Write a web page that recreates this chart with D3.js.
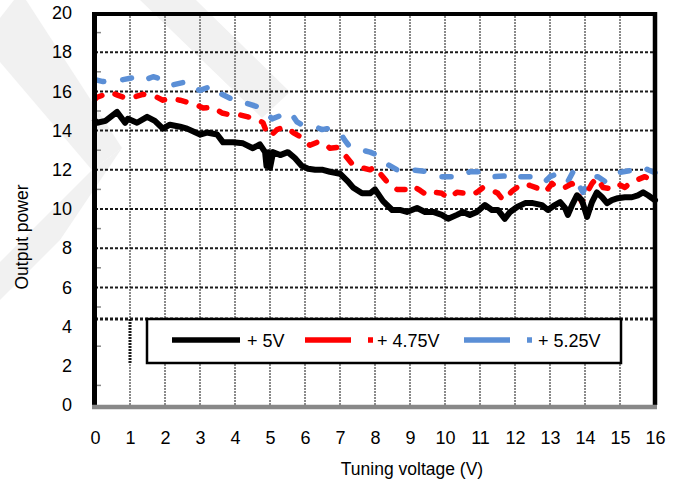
<!DOCTYPE html>
<html>
<head>
<meta charset="utf-8">
<script src="https://cdn.jsdelivr.net/npm/d3@7"></script>
<style>
  html, body { margin: 0; padding: 0; background: #fff; }
  svg { display: block; font-family: "Liberation Sans", Arial, sans-serif; }
</style>
</head>
<body>
<svg id="chart" width="673" height="486"></svg>
<script>
// Output power versus tuning voltage for three supply voltages: [tuning V, power]
const power5V = [
  [0, 14.5], [0.06, 14.4], [0.3, 14.5], [0.63, 14.95], [0.86, 14.4], [0.94, 14.6],
  [1.2, 14.4], [1.49, 14.7], [1.71, 14.5], [1.94, 14.1], [2.14, 14.3], [2.43, 14.2],
  [2.63, 14.1], [3.0, 13.8], [3.2, 13.9], [3.49, 13.8], [3.66, 13.4], [3.94, 13.4],
  [4.23, 13.35], [4.51, 13.1], [4.71, 13.3], [4.86, 12.9], [4.9, 12.2], [4.95, 12.9],
  [5.0, 12.1], [5.09, 12.9], [5.29, 12.75], [5.51, 12.9], [5.71, 12.6], [5.91, 12.2],
  [6.09, 12.05], [6.29, 12.0], [6.51, 12.0], [6.71, 11.9], [7.0, 11.8], [7.23, 11.4],
  [7.37, 11.1], [7.63, 10.8], [7.86, 10.8], [8.0, 11.0], [8.23, 10.4], [8.49, 9.95],
  [8.71, 9.95], [8.91, 9.85], [9.2, 10.05], [9.43, 9.85], [9.66, 9.85], [9.91, 9.7],
  [10.09, 9.5], [10.34, 9.7], [10.51, 9.85], [10.71, 9.7], [10.91, 9.85], [11.14, 10.2],
  [11.34, 9.95], [11.51, 9.95], [11.71, 9.5], [11.86, 9.85], [12.06, 10.1], [12.29, 10.3],
  [12.51, 10.3], [12.77, 10.2], [12.94, 9.95], [13.14, 10.2], [13.29, 10.35], [13.43, 10.05],
  [13.51, 9.7], [13.63, 10.2], [13.77, 10.7], [13.91, 10.45], [14.06, 9.6], [14.2, 10.35],
  [14.34, 10.85], [14.49, 10.6], [14.63, 10.3], [14.77, 10.45], [14.94, 10.55], [15.14, 10.6],
  [15.34, 10.6], [15.51, 10.7], [15.66, 10.85], [15.8, 10.7], [16.0, 10.45]
];

const power475V = [
  [0, 15.6], [0.06, 15.7], [0.43, 15.95], [0.66, 15.8], [0.91, 15.65], [1.09, 15.7],
  [1.37, 15.85], [1.66, 15.8], [1.94, 15.55], [2.14, 15.65], [2.43, 15.55], [2.63, 15.45],
  [2.91, 15.3], [3.09, 15.15], [3.37, 15.2], [3.63, 14.9], [3.86, 14.8], [4.14, 14.8],
  [4.37, 14.7], [4.66, 14.55], [4.8, 14.4], [4.91, 13.9], [5.0, 13.7], [5.2, 14.05],
  [5.37, 14.15], [5.51, 14.15], [5.66, 13.9], [5.86, 13.7], [6.14, 13.25], [6.34, 13.4],
  [6.57, 13.35], [6.71, 13.1], [6.94, 13.15], [7.14, 12.75], [7.37, 12.25], [7.63, 12.1],
  [7.86, 12.0], [8.0, 12.15], [8.06, 12.0], [8.29, 11.5], [8.43, 11.2], [8.63, 11.0],
  [8.86, 11.0], [9.06, 11.2], [9.29, 10.95], [9.49, 10.7], [9.71, 10.85], [9.91, 10.8],
  [10.09, 10.55], [10.34, 10.85], [10.57, 10.8], [10.71, 10.7], [10.91, 10.85], [11.09, 11.1],
  [11.29, 11.0], [11.51, 10.8], [11.66, 10.45], [11.8, 10.7], [11.94, 10.95], [12.06, 11.1],
  [12.23, 11.3], [12.43, 11.2], [12.66, 11.05], [12.86, 10.85], [13.06, 11.3], [13.23, 11.05],
  [13.43, 11.1], [13.63, 11.3], [13.77, 10.85], [13.91, 10.35], [14.06, 10.85], [14.2, 11.3],
  [14.34, 11.6], [14.51, 11.1], [14.71, 11.05], [14.91, 11.3], [15.14, 11.1], [15.34, 11.4],
  [15.51, 11.5], [15.71, 11.65], [15.86, 11.5], [16.0, 11.2]
];

const power525V = [
  [0, 16.6], [0.23, 16.5], [0.8, 16.6], [1.09, 16.7], [1.29, 16.5], [1.66, 16.75],
  [1.94, 16.6], [2.14, 16.3], [2.63, 16.5], [2.8, 16.2], [3.0, 16.05], [3.37, 16.3],
  [3.57, 15.9], [3.86, 15.65], [4.06, 15.65], [4.23, 15.45], [4.77, 15.15], [4.91, 14.9],
  [5.06, 14.6], [5.57, 14.95], [5.77, 14.45], [5.91, 14.3], [6.29, 14.2], [6.49, 14.05],
  [6.63, 14.1], [7.0, 13.9], [7.14, 13.5], [7.29, 13.15], [7.86, 12.9], [8.06, 12.75],
  [8.23, 12.4], [8.63, 12.0], [8.8, 11.9], [9.06, 12.0], [9.51, 11.9], [9.86, 11.65],
  [10.43, 11.65], [10.71, 11.9], [11.2, 11.9], [11.37, 11.65], [11.86, 11.7], [12.0, 11.5],
  [12.14, 11.65], [12.71, 11.65], [12.86, 11.4], [13.0, 11.65], [13.14, 11.75], [13.37, 11.75],
  [13.51, 11.4], [13.66, 11.9], [13.8, 11.3], [13.94, 10.85], [14.09, 11.4], [14.2, 11.65],
  [14.37, 11.65], [14.57, 11.4], [14.71, 11.65], [14.91, 11.85], [15.43, 12.0], [15.63, 12.15],
  [15.8, 12.0], [16.0, 11.85]
];

const seriesNames = ["+ 5V", "+ 4.75V", "+ 5.25V"];
const seriesColors = ["#000000", "#ff0000", "#5b8fd6"];

const xTickValues = [0, 1, 2, 3, 4, 5, 6, 7, 8, 9, 10, 11, 12, 13, 14, 15, 16];
const yTickValues = [0, 2, 4, 6, 8, 10, 12, 14, 16, 18, 20];
const yGridValues = [6, 8, 10, 12, 14, 16, 18];
const yMinorValues = [1, 3, 5, 7, 9, 11, 13, 15, 17, 19];

const xTitle = "Tuning voltage (V)";
const yTitle = "Output power";

// ---- layout ----
const svg = d3.select("#chart");
const x = d3.scaleLinear().domain([0, 16]).range([95, 655]);
const y = d3.scaleLinear().domain([0, 20]).range([405, 13]);
const legendBox = { x0: 147, x1: 621, y0: 319, y1: 363 };

svg.append("rect").attr("width", 673).attr("height", 486).attr("fill", "#fff");

// faint diagonal backdrop bands in the upper-left corner
const backdrop = svg.append("g").attr("fill", "#f1f1f1");
backdrop.append("polygon").attr("points", "0,18 0,62 92,170 122,148 26,0 14,0");
backdrop.append("polygon").attr("points", "92,170 122,148 60,240 0,300 0,262");
backdrop.append("polygon").attr("points", "140,0 196,0 290,92 262,118");

// vertical grid (grey, fine dotted)
svg.append("g").selectAll("line")
  .data(xTickValues.slice(1, -1))
  .join("line")
  .attr("x1", d => x(d)).attr("x2", d => x(d))
  .attr("y1", y(20)).attr("y2", y(0))
  .attr("stroke", "#8a8a8a").attr("stroke-width", 2)
  .attr("stroke-dasharray", "2,1");

// horizontal grid (black dotted)
svg.append("g").selectAll("line")
  .data(yGridValues)
  .join("line")
  .attr("x1", x(0)).attr("x2", x(16))
  .attr("y1", d => y(d)).attr("y2", d => y(d))
  .attr("stroke", "#1a1a1a").attr("stroke-width", 2)
  .attr("stroke-dasharray", "3,2");

// darker dotted rule along the legend band
svg.append("line")
  .attr("x1", x(0)).attr("x2", x(16))
  .attr("y1", legendBox.y0).attr("y2", legendBox.y0)
  .attr("stroke", "#1a1a1a").attr("stroke-width", 3)
  .attr("stroke-dasharray", "3,2");
svg.append("line")
  .attr("x1", x(1)).attr("x2", x(1))
  .attr("y1", legendBox.y0).attr("y2", legendBox.y1)
  .attr("stroke", "#1a1a1a").attr("stroke-width", 3)
  .attr("stroke-dasharray", "2,1");

// minor ticks inside the left frame
svg.append("g").selectAll("line")
  .data(yMinorValues)
  .join("line")
  .attr("x1", x(0)).attr("x2", x(0) + 6)
  .attr("y1", d => y(d)).attr("y2", d => y(d))
  .attr("stroke", "#888").attr("stroke-width", 1.5);

// series
const line = d3.line().x(d => x(d[0])).y(d => y(d[1])).curve(d3.curveLinear);
const seriesData = [power5V, power475V, power525V];
const dashes = [null, "8,14", "9,19"];
const plot = svg.append("g");
[2, 1, 0].forEach(i => {
  plot.append("path")
    .datum(seriesData[i])
    .attr("d", line)
    .attr("fill", "none")
    .attr("stroke", seriesColors[i])
    .attr("stroke-width", i === 0 ? 6 : 5.5)
    .attr("stroke-linecap", "round")
    .attr("stroke-linejoin", "round")
    .attr("stroke-dasharray", dashes[i]);
});

// legend
const lg = svg.append("g");
lg.append("rect")
  .attr("x", legendBox.x0).attr("y", legendBox.y0)
  .attr("width", legendBox.x1 - legendBox.x0).attr("height", legendBox.y1 - legendBox.y0)
  .attr("fill", "#fff").attr("stroke", "#000").attr("stroke-width", 2.5);
const legendItems = [
  { sx: 172, ex: 240, tx: 247, dash: null },
  { sx: 305, ex: 373, tx: 377, dash: "46,17,5,40" },
  { sx: 464, ex: 532, tx: 538, dash: "46,17,5,40" }
];
const ly = (legendBox.y0 + legendBox.y1) / 2 - 1;
legendItems.forEach((it, i) => {
  lg.append("line")
    .attr("x1", it.sx).attr("x2", it.ex)
    .attr("y1", ly).attr("y2", ly)
    .attr("stroke", seriesColors[i]).attr("stroke-width", 5.5)
    .attr("stroke-dasharray", it.dash);
  lg.append("text")
    .attr("x", it.tx).attr("y", ly + 6.5)
    .attr("font-size", 18).attr("fill", "#000")
    .text(seriesNames[i]);
});

// frame
svg.append("line").attr("x1", 92).attr("x2", 657).attr("y1", y(20) + 1).attr("y2", y(20) + 1)
  .attr("stroke", "#000").attr("stroke-width", 4);
svg.append("line").attr("x1", x(0) - 0.5).attr("x2", x(0) - 0.5).attr("y1", y(20) - 1).attr("y2", y(0))
  .attr("stroke", "#000").attr("stroke-width", 5);
svg.append("line").attr("x1", x(16)).attr("x2", x(16)).attr("y1", y(20) - 1).attr("y2", y(0))
  .attr("stroke", "#000").attr("stroke-width", 4.5);
svg.append("line").attr("x1", 92).attr("x2", 657).attr("y1", y(0) + 2).attr("y2", y(0) + 2)
  .attr("stroke", "#888").attr("stroke-width", 4.5);

// axes
const xAxis = svg.append("g")
  .attr("transform", `translate(0,${y(0) + 2})`)
  .call(d3.axisBottom(x).tickValues(xTickValues).tickSize(0).tickPadding(24).tickFormat(d3.format("d")));
const yAxis = svg.append("g")
  .attr("transform", `translate(${x(0)},0)`)
  .call(d3.axisLeft(y).tickValues(yTickValues).tickSize(0).tickPadding(23).tickFormat(d3.format("d")));
[xAxis, yAxis].forEach(a => {
  a.select(".domain").remove();
  a.selectAll("text").attr("font-size", 18).attr("fill", "#000")
    .attr("font-family", "'Liberation Sans', Arial, sans-serif");
});

// titles
svg.append("text")
  .attr("x", 412).attr("y", 475)
  .attr("text-anchor", "middle").attr("font-size", 17.5).attr("fill", "#000")
  .text(xTitle);
svg.append("text")
  .attr("transform", "translate(28,237) rotate(-90)")
  .attr("text-anchor", "middle").attr("font-size", 17.5).attr("fill", "#000")
  .text(yTitle);
</script>
</body>
</html>
